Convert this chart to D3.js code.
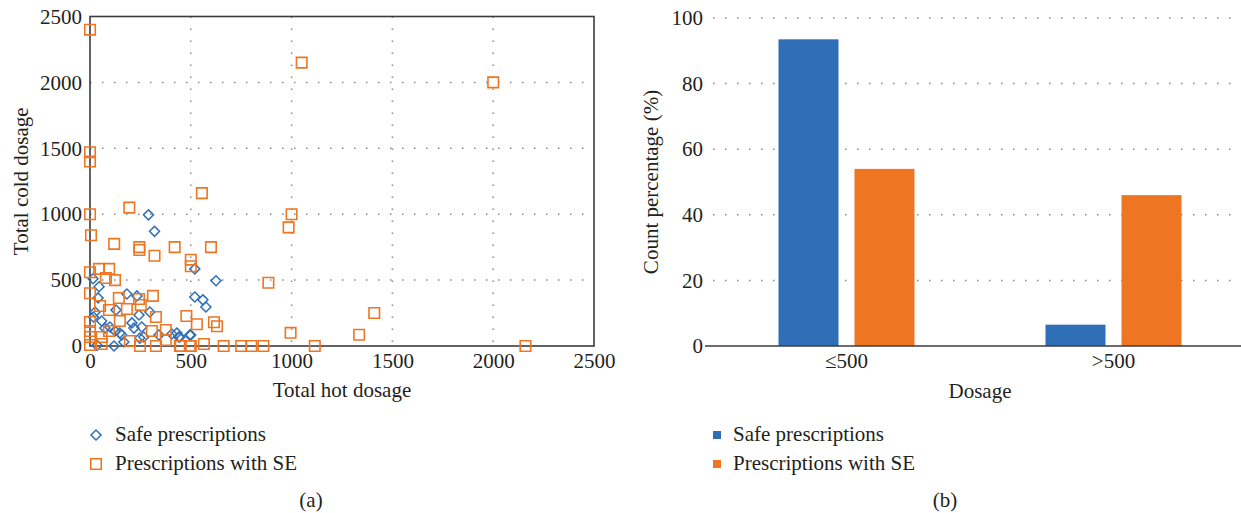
<!DOCTYPE html>
<html lang="en">
<head>
<meta charset="UTF-8">
<title>Dosage charts</title>
<script src="https://d3js.org/d3.v7.min.js"></script>
<style>
  body { margin: 0; background: #fff; }
  svg text { font-family: "Liberation Serif", "Times New Roman", serif; fill: #231f20; }
  .grid { stroke: #8a8a8a; stroke-width: 1.5; stroke-dasharray: 1.5 10.5; }
  .frame { stroke: #3c3c3c; stroke-width: 1.6; fill: none; }
</style>
</head>
<body>
<div id="chart"></div>
<script>
// ---- data (a): scatter, [hot, cold]
const safeHot  = [290, 320, 520, 625, 15, 45, 520, 560, 575, 40, 183, 233, 25, 58, 129, 243, 297, 208,
                  124, 158, 218, 257, 267, 342, 431, 495, 119, 35, 168, 406, 440, 74, 247, 500, 446, 17, 148, 99];
const safeCold = [995, 870, 585, 495, 510, 450, 372, 350, 296, 365, 395, 380, 258, 190, 273, 235, 258, 175,
                  114, 83, 136, 144, 68, 83, 98, 83, 0, 5, 30, 91, 68, 136, 60, 83, 68, 220, 98, 144];
const seHot  = [0, 1050, 0, 0, 555, 2000, 2160, 1000, 985, 600, 500, 500, 885, 478, 530, 615, 630, 995,
                1335, 1410, 450, 500, 565, 663, 750, 800, 860, 1115, 0, 5, 195, 120, 245, 245, 320, 420,
                0, 45, 95, 79, 124, 0, 143, 243, 312, 50, 94, 183, 252, 148, 327, 0, 0, 0, 0, 58, 58,
                94, 198, 248, 307, 327, 376, 376, 446, 495];
const seCold = [2400, 2150, 1470, 1400, 1160, 2000, 0, 1000, 900, 750, 655, 605, 480, 228, 165, 180, 150, 100,
                85, 250, 0, 0, 15, 0, 0, 0, 0, 0, 1000, 840, 1050, 775, 750, 728, 685, 750,
                560, 585, 585, 516, 500, 400, 364, 357, 380, 303, 273, 281, 311, 190, 220, 182, 114, 68, 8, 68, 15,
                114, 38, 0, 114, 0, 121, 45, 0, 0];
const scatterTicks = [0, 500, 1000, 1500, 2000, 2500];

// ---- data (b): bars
const dosageGroups = ["\u2264500", ">500"];
const seriesNames = ["Safe prescriptions", "Prescriptions with SE"];
const safePct = [93.5, 6.5];
const sePct = [54, 46];
const barTicks = [0, 20, 40, 60, 80, 100];

const blue = "#2f6fb8", orange = "#ee7623";
const fontSize = "21px";
const serif = "Liberation Serif, Times New Roman, serif";

const svg = d3.select("#chart").append("svg")
  .attr("width", 1241).attr("height", 513);

// ================= (a) scatter =================
const x = d3.scaleLinear().domain([0, 2500]).range([90, 594]);
const y = d3.scaleLinear().domain([0, 2500]).range([346, 16.5]);
const a = svg.append("g");

a.selectAll(".vgrid").data(scatterTicks.slice(1, -1)).enter().append("line")
  .attr("class", "grid")
  .attr("x1", d => x(d)).attr("x2", d => x(d))
  .attr("y1", y(2500)).attr("y2", y(0));
a.selectAll(".hgrid").data(scatterTicks.slice(1, -1)).enter().append("line")
  .attr("class", "grid")
  .attr("x1", x(0)).attr("x2", x(2500))
  .attr("y1", d => y(d)).attr("y2", d => y(d));

a.append("rect").attr("class", "frame")
  .attr("x", x(0)).attr("y", y(2500))
  .attr("width", x(2500) - x(0)).attr("height", y(0) - y(2500));

const diamond = d3.symbol().type(d3.symbolSquare).size(50);
const square = d3.symbol().type(d3.symbolSquare).size(110);

a.selectAll(".safe").data(safeHot.map((h, i) => [h, safeCold[i]])).enter().append("path")
  .attr("d", diamond)
  .attr("transform", d => `translate(${x(d[0])},${y(d[1])}) rotate(45)`)
  .attr("fill", "none").attr("stroke", blue).attr("stroke-width", 1.5);

a.selectAll(".se").data(seHot.map((h, i) => [h, seCold[i]])).enter().append("path")
  .attr("d", square)
  .attr("transform", d => `translate(${x(d[0])},${y(d[1])})`)
  .attr("fill", "none").attr("stroke", orange).attr("stroke-width", 1.6);

const ax = a.append("g").attr("transform", `translate(0,${y(0)})`)
  .call(d3.axisBottom(x).tickValues(scatterTicks).tickFormat(d3.format("d")).tickSize(0).tickPadding(7));
const ay = a.append("g").attr("transform", `translate(${x(0)},0)`)
  .call(d3.axisLeft(y).tickValues(scatterTicks).tickFormat(d3.format("d")).tickSize(0).tickPadding(8));
[ax, ay].forEach(g => {
  g.attr("font-family", serif).attr("font-size", fontSize);
  g.select(".domain").remove();
  g.selectAll("text").attr("fill", "#231f20");
});

a.append("text").attr("x", (x(0) + x(2500)) / 2).attr("y", 397)
  .attr("text-anchor", "middle").attr("font-size", fontSize).text("Total hot dosage");
a.append("text").attr("transform", `translate(28,${(y(0) + y(2500)) / 2}) rotate(-90)`)
  .attr("text-anchor", "middle").attr("font-size", fontSize).text("Total cold dosage");

// legend (a)
a.append("path").attr("d", diamond).attr("transform", "translate(96,435) rotate(45)")
  .attr("fill", "none").attr("stroke", blue).attr("stroke-width", 1.5);
a.append("path").attr("d", square).attr("transform", "translate(96,464)")
  .attr("fill", "none").attr("stroke", orange).attr("stroke-width", 1.6);
a.append("text").attr("x", 115).attr("y", 441).attr("font-size", fontSize).text(seriesNames[0]);
a.append("text").attr("x", 115).attr("y", 470).attr("font-size", fontSize).text(seriesNames[1]);
a.append("text").attr("x", 311).attr("y", 507).attr("text-anchor", "middle")
  .attr("font-size", fontSize).text("(a)");

// ================= (b) bars =================
const x0 = d3.scaleBand().domain(dosageGroups).range([713, 1247]);
const x1 = d3.scaleBand().domain(seriesNames).range([-68, 68]).paddingInner(16 / 76);
const yb = d3.scaleLinear().domain([0, 100]).range([346, 18]);
const b = svg.append("g");

b.selectAll(".bgrid").data(barTicks.slice(1)).enter().append("line")
  .attr("class", "grid")
  .attr("x1", 713).attr("x2", 1241)
  .attr("y1", d => yb(d)).attr("y2", d => yb(d));

const barData = [];
dosageGroups.forEach((g, i) => {
  barData.push({ group: g, series: seriesNames[0], value: safePct[i], color: blue });
  barData.push({ group: g, series: seriesNames[1], value: sePct[i], color: orange });
});
b.selectAll(".bar").data(barData).enter().append("rect")
  .attr("x", d => x0(d.group) + x0.bandwidth() / 2 + x1(d.series))
  .attr("width", x1.bandwidth())
  .attr("y", d => yb(d.value))
  .attr("height", d => yb(0) - yb(d.value))
  .attr("fill", d => d.color);

b.append("line").attr("x1", 705).attr("x2", 1241)
  .attr("y1", yb(0)).attr("y2", yb(0))
  .attr("stroke", "#3c3c3c").attr("stroke-width", 1.6);

const bx = b.append("g").attr("transform", `translate(0,${yb(0)})`)
  .call(d3.axisBottom(x0).tickSize(0).tickPadding(7));
const by = b.append("g").attr("transform", "translate(711,0)")
  .call(d3.axisLeft(yb).tickValues(barTicks).tickSize(0).tickPadding(8));
[bx, by].forEach(g => {
  g.attr("font-family", serif).attr("font-size", fontSize);
  g.select(".domain").remove();
  g.selectAll("text").attr("fill", "#231f20");
});

b.append("text").attr("x", 980).attr("y", 398).attr("text-anchor", "middle")
  .attr("font-size", fontSize).text("Dosage");
b.append("text").attr("transform", `translate(658,${(yb(0) + yb(100)) / 2}) rotate(-90)`)
  .attr("text-anchor", "middle").attr("font-size", fontSize).text("Count percentage (%)");

// legend (b)
b.selectAll(".leg").data(seriesNames).enter().append("rect")
  .attr("x", 713).attr("y", (d, i) => 431 + i * 29)
  .attr("width", 8).attr("height", 8)
  .attr("fill", (d, i) => i === 0 ? blue : orange);
b.selectAll(".legt").data(seriesNames).enter().append("text")
  .attr("x", 733).attr("y", (d, i) => 441 + i * 29)
  .attr("font-size", fontSize).text(d => d);
b.append("text").attr("x", 945).attr("y", 507).attr("text-anchor", "middle")
  .attr("font-size", fontSize).text("(b)");
</script>
</body>
</html>
